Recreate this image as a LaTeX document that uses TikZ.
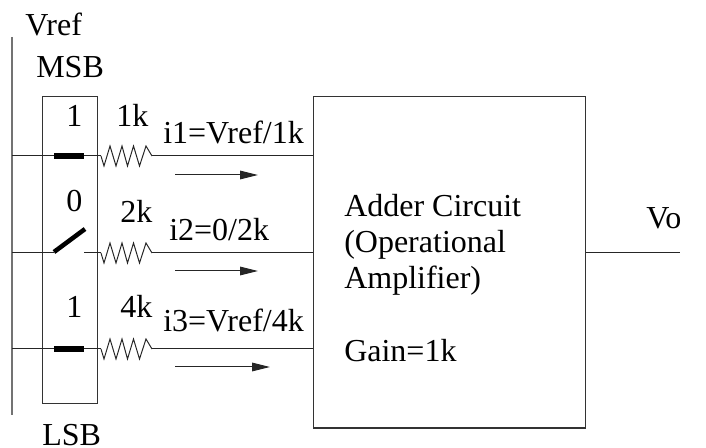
\documentclass[tikz,border=0pt]{standalone}
\usepackage{fontspec}
\setmainfont{Liberation Serif}
\usetikzlibrary{arrows.meta}
\tikzset{
  txt/.style={anchor=base west,inner sep=0pt,font=\fontsize{24}{28}\selectfont},
  wire/.style={draw=black!85,line width=0.75pt},
  rail/.style={draw=black!55,line width=1.4pt},
  boxline/.style={draw=black!80,line width=0.8pt},
  blade/.style={draw=black,line width=4pt},
  diagblade/.style={draw=black,line width=3.4pt},
  flow/.style={draw=black!85,line width=0.75pt,-{Triangle[length=13.5pt,width=6.5pt]}}
}
\begin{document}
\begin{tikzpicture}[x=0.75pt,y=-0.75pt]
\useasboundingbox (0,0) rectangle (706,448);
% boxes
\node[boxline,rectangle,minimum width=40.9pt,minimum height=230.25pt,inner sep=0pt,anchor=north west] (sw) at (42,96) {};
\node[boxline,rectangle,minimum width=204pt,minimum height=248.6pt,inner sep=0pt,anchor=north west] (adder) at (313,96) {};
% rail
\coordinate (railT) at (12,37);
\coordinate (railB) at (12,415);
\draw[rail] (railT) -- (railB);
% row coordinates
\foreach \n/\y in {a/156,b/253,c/349}{
  \coordinate (l\n) at (12,\y);
  \coordinate (s\n) at (54,\y);
  \coordinate (e\n) at (84,\y);
  \coordinate (r\n) at (101,\y);
  \coordinate (q\n) at (152,\y);
  \coordinate (i\n) at (313,\y);
  \draw[wire] (l\n) -- (s\n);
  \draw[wire] (e\n) -- (r\n);
  \draw[wire] (q\n) -- (i\n);
  \draw[wire,line join=miter] (r\n) -- ++(3,10) -- ++(6,-20) -- ++(6,20) -- ++(6,-20) -- ++(5.5,20) -- ++(6,-20) -- ++(6,20) -- ++(6.5,-20) -- (q\n);
}
% switch blades
\draw[blade] (sa) -- (ea);
\draw[diagblade] (54,252) -- (85,229);
\draw[blade] (sc) -- (ec);
% arrows
\coordinate (f1a) at (175,175); \coordinate (f1b) at (258,175);
\coordinate (f2a) at (175,271); \coordinate (f2b) at (258,271);
\coordinate (f3a) at (175,367); \coordinate (f3b) at (270,367);
\draw[flow] (f1a) -- (f1b);
\draw[flow] (f2a) -- (f2b);
\draw[flow] (f3a) -- (f3b);
% output
\coordinate (vo) at (680,253);
\draw[wire] (adder.east |- vo) -- (vo);
% labels
\node[txt] (tvref) at (25,36) {Vref};
\node[txt] (tmsb) at (36,78) {MSB};
\node[txt] (tb1) at (66,127) {1};
\node[txt] (t1k) at (116,127) {1k};
\node[txt] (ti1) at (163,144) {i1=Vref/1k};
\node[txt] (tb2) at (66,212) {0};
\node[txt] (t2k) at (120,223) {2k};
\node[txt] (ti2) at (169,241) {i2=0/2k};
\node[txt] (tb3) at (66,318) {1};
\node[txt] (t4k) at (120,318) {4k};
\node[txt] (ti3) at (163,332) {i3=Vref/4k};
\node[txt] (tlsb) at (42,445) {LSB};
\node[txt] (tad1) at (344,217) {Adder Circuit};
\node[txt] (tad2) at (344,253) {(Operational};
\node[txt] (tad3) at (344,289) {Amplifier)};
\node[txt] (tad4) at (344,362) {Gain=1k};
\node[txt] (tvo) at (646,229) {Vo};
\end{tikzpicture}
\end{document}
